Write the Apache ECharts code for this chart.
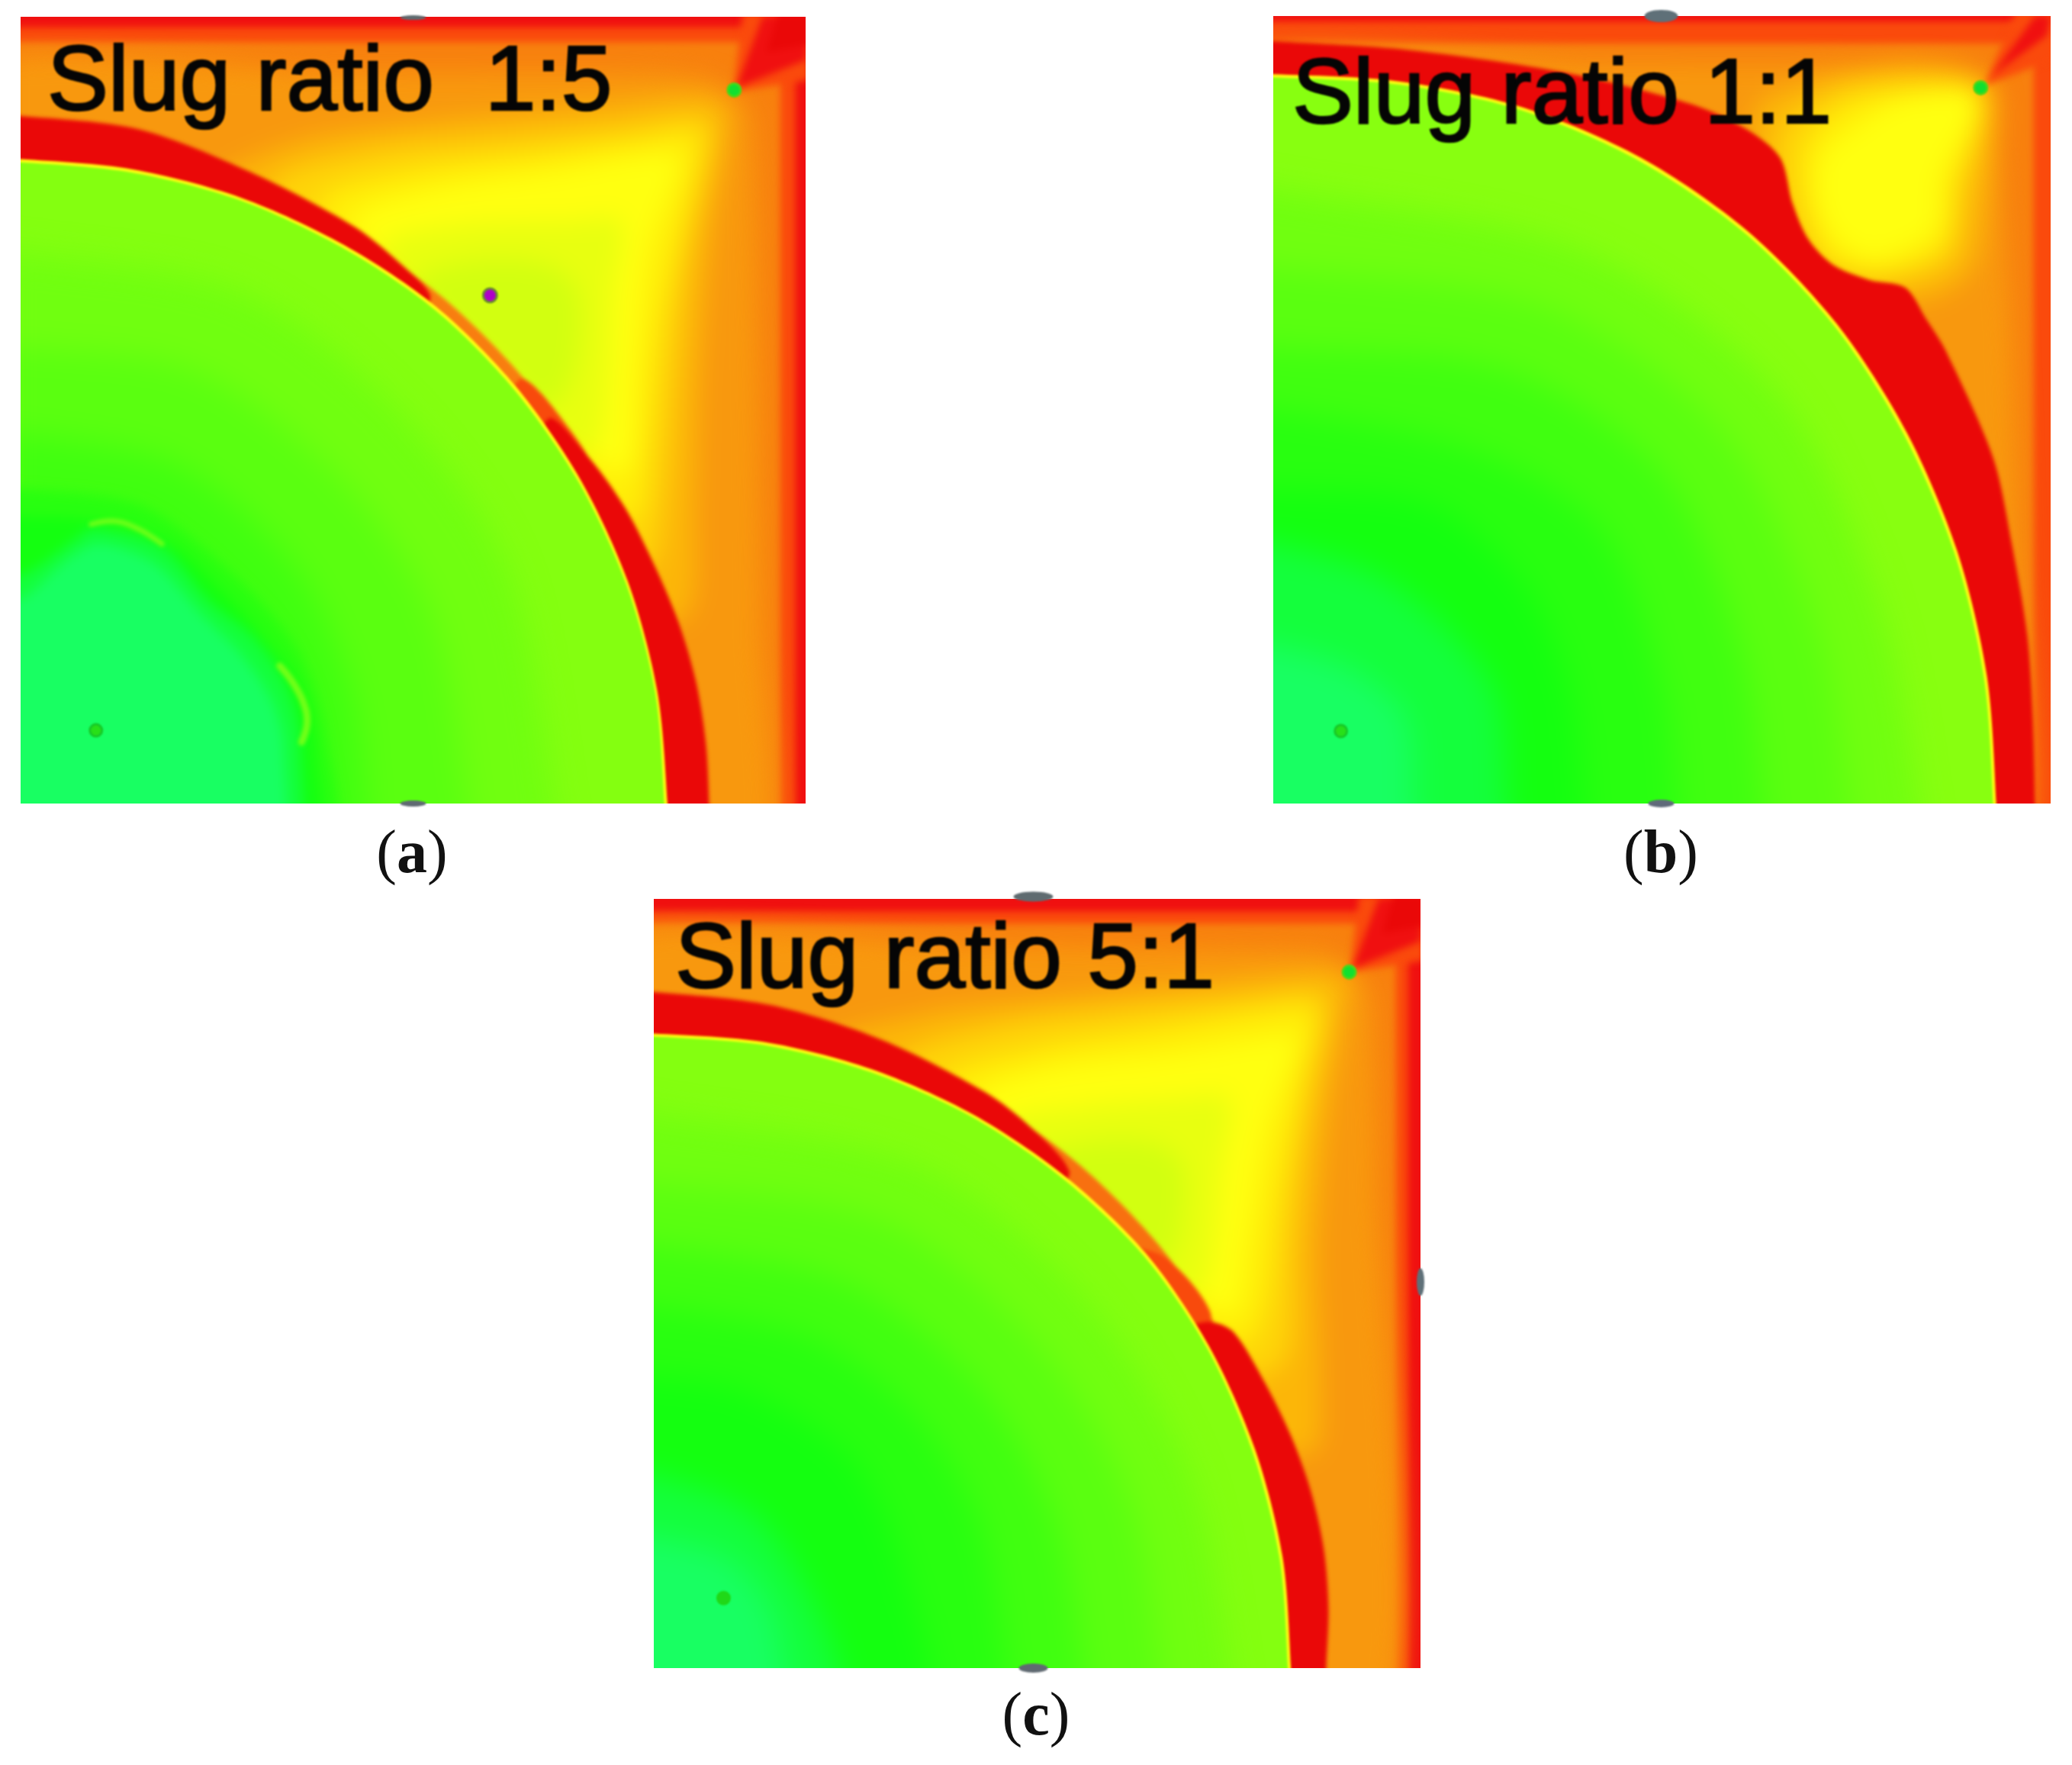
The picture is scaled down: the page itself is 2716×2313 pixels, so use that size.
<!DOCTYPE html>
<html><head><meta charset="utf-8">
<style>html,body{margin:0;padding:0;background:#fff}#c{width:2716px;height:2313px}</style>
<script src="https://cdn.jsdelivr.net/npm/echarts@6/dist/echarts.min.js"></script>
</head><body><div id="c"></div>
<script>
// ---------- contour readings, panel percent coordinates (x right, y up) ----------
const frameAll=[[-6,-6],[106,-6],[106,106],[-6,106]];
// panel a : slug ratio 1:5
const aO1=[[-6,98.7],[98.7,98.7],[98.7,-6],[-6,-6]];
const aO2=[[-6,96.8],[96.8,96.8],[96.8,-6],[-6,-6]];
const aO3=[[-6,93],[40,93],[80,93],[88,92],[93,88],[94,60],[94.5,20],[94.5,-6],[-6,-6]];
const aO4=[[25,78],[35,84],[50,86.5],[70,88.5],[85,90],[90,89],[90,85],[88,72],[86.5,55],[86,38],[85,24],[78,24],[50,50]];
const aO5=[[32,78],[45,83],[60,84.5],[75,86],[87,87.5],[88.5,85],[85,70],[83.5,55],[82,38],[80,30],[70,35],[50,55]];
const aO6=[[38,76],[50,80.5],[65,82.5],[80,84.5],[86,85],[85,76],[81.5,60],[80,45],[78,36],[65,45],[50,60]];
const aY=[[42,74],[52,78],[68,80.5],[80,82.5],[84,82],[80,70],[78.5,55],[77,42],[65,50],[50,65]];
const aYG1=[[46,71],[56,73.5],[70,74],[76.5,74],[75.5,65],[74.5,50],[72,44],[60,55],[50,65]];
const aYG2=[[50,66],[58,69],[67,68.5],[71,65],[70.5,55],[67,50],[60,56]];
const aStrip=[[83.8,-6],[83.8,0],[82.5,14.6],[78.7,28.7],[72.6,41.9],[64.2,53.9],[53.9,64.2],[41.9,72.6],[28.7,78.7],[14.6,82.5],[0,83.8],[-6,83.8],[-6,-6]];
const aMid=[[64,54],[70,47.5],[73,42],[70,40],[62,50]];
const aRedTop=[[-6,87.5],[0,87.4],[15.1,85.7],[29.2,80.3],[42.4,73.4],[48.2,68.8],[52.2,64.5],[50,62],[30,60],[-6,60],[-20,70]];
const aRedRight=[[67.1,48.8],[71.7,44.8],[77,37.6],[81.1,29.5],[84,22.5],[86.1,15.2],[87.3,7.6],[87.7,0],[87.8,-6],[60,-6],[60,30]];
const aRim=[[82.4,-6],[82.4,0],[81.1,14.3],[77.4,28.1],[71.3,41.2],[63.1,53],[53,63.1],[41.2,71],[28.1,77],[14.3,80.6],[0,81.9],[-6,81.9],[-6,-6]];
const aDisc=[[82,-6],[82,0],[80.8,14.3],[77.1,28],[71,41],[62.8,52.7],[52.7,62.8],[40.9,70.7],[27.9,76.7],[14.2,80.2],[0,81.5],[-6,81.5],[-6,-6]];
const aG1=[[-6,70],[0,70],[28,65],[48,50],[62,30],[68,0],[68,-6],[-6,-6]];
const aG2=[[-6,58],[0,58],[22,55],[40,42],[52,25],[57,0],[57,-6],[-6,-6]];
const aG3=[[-6,47],[0,47],[20,43],[35,30],[42,15],[44,0],[44,-6],[-6,-6]];
const aG4=[[-6,40],[0,40],[15,38],[25,31],[35,20],[39,8],[39,-6],[-6,-6]];
const aG5=[[-6,36.5],[0,36.5],[9,36],[19,33],[26,26.5],[31,21],[36,14],[37.5,6],[37,-6],[-6,-6]];
const aB1=[[-6,29],[0,29],[7,33.6],[9.3,35],[18,32.6],[24,25.8],[29.8,21],[34,14.8],[35.6,8],[34,-6],[-6,-6]];
const aB2=[[-6,26],[0,26],[6,31],[10,33],[17,30.5],[23,24],[28,19],[32,13],[33.5,7],[32,-6],[-6,-6]];
const aArc1=[[9,35.5],[12,35.9],[15,34.9],[18,33]];
const aArc2=[[33,17.5],[34.6,15.5],[36,12.9],[36.5,10.3],[35.8,7.8]];
// panel b : slug ratio 1:1
const bTopRed=[[-6,99.3],[106,99.3],[106,106],[-6,106]];
const bO1=[[-6,98],[99,98],[99,-6],[-6,-6]];
const bO2=[[-6,96.5],[97.8,96.5],[97.8,-6],[-6,-6]];
const bO3=[[-6,94],[40,94],[70,94],[88,93],[92,90],[93.5,80],[95,60],[96,30],[96,-6],[-6,-6]];
const bO4=[[62,88],[70,92],[80,94],[90,93],[93,90],[92,78],[90,68],[84,64],[72,65],[64,72]];
const bO5=[[65,85],[72,90.5],[81,92],[90,91.5],[91.5,88],[89,78],[87,69],[78,66],[70,68],[66,75]];
const bO6=[[68,82],[73,88.5],[81,90.5],[90,90.7],[91,88],[88,79],[86.5,71],[78,67.5],[71,70]];
const bY=[[69.8,77.8],[70.8,82.7],[75,85.9],[79.9,89.1],[86.5,90.4],[90.1,90],[90,87],[86,80],[85.2,73],[81.5,70.5],[76.6,69.2],[71.7,72.3]];
const bRed=[[-6,97],[0,96.8],[17.4,95.7],[37.6,92.8],[53.8,88.8],[60.9,85.6],[65.2,82],[66.8,76.2],[68.8,71.7],[72,68.4],[76.6,66.5],[81.3,65.5],[84,61.5],[86.5,57.5],[92.6,43.9],[95,33],[97,21.3],[97.7,11],[98,0],[98,-6],[50,-6],[50,50],[-6,60]];
const bRim=[[93,-6],[93,0],[91.8,16.2],[88,32],[81.5,47.1],[72.5,60.9],[61,72.7],[47.3,82],[32.1,88.4],[16.2,91.7],[0,92.6],[-6,92.6],[-6,-6]];
const bDisc=[[92.6,-6],[92.6,0],[91.4,16.1],[87.6,31.9],[81.1,46.9],[72.2,60.6],[60.7,72.4],[47.1,81.6],[32,88],[16.1,91.3],[0,92.2],[-6,92.2],[-6,-6]];
const bG1=[[-6,78],[0,78],[40,70],[65,52],[78,25],[83,0],[83,-6],[-6,-6]];
const bG2=[[-6,68],[0,68],[35,63],[58,47],[70,22],[74,0],[74,-6],[-6,-6]];
const bG3=[[-6,58],[0,58],[30,55],[50,42],[60,20],[63,0],[63,-6],[-6,-6]];
const bG4=[[-6,50],[0,50],[25,45],[42,35],[50,15],[52,0],[52,-6],[-6,-6]];
const bG5=[[-6,40],[0,40],[20,38],[32,28],[38,15],[40,0],[40,-6],[-6,-6]];
const bB1=[[-6,33],[0,33],[15,28],[28,15],[30,0],[30,-6],[-6,-6]];
const bB2=[[-6,20],[0,20],[10,17],[17,11],[18,0],[18,-6],[-6,-6]];
// panel c : slug ratio 5:1
const cO1=[[-6,98.4],[98.4,98.4],[98.4,-6],[-6,-6]];
const cO2=[[-6,96.8],[96.8,96.8],[96.8,-6],[-6,-6]];
const cO3=[[-6,94],[40,94],[80,93.5],[88,93],[93.5,88],[94.5,60],[95,-6],[-6,-6]];
const cO4=[[22,80],[35,85],[50,87],[70,89],[85,90.5],[90.5,90],[90,85],[88,72],[86.5,55],[87,38],[86,28],[78,30],[50,50]];
const cO5=[[32,78],[45,83.5],[60,85.5],[75,87],[87,88],[88,85],[85,70],[83.5,55],[83,42],[80,38],[70,40],[50,55]];
const cO6=[[38,76],[50,80.5],[65,83],[80,85.5],[86,85.5],[84.5,76],[81.5,60],[80,48],[77,42],[65,48],[50,60]];
const cY=[[42,74],[52,78],[68,80],[80,82],[84,82],[80,70],[77.5,55],[75.5,46],[65,52],[50,65]];
const cYG1=[[46,71],[56,73],[68,74],[75,74],[74,65],[72.5,52],[70,48],[60,55],[50,65]];
const cYG2=[[50,66],[58,68.5],[66,68],[69,65],[68.5,56],[66,52],[60,58]];
const cStrip=[[85.8,-6],[85.8,0],[84.5,14.9],[80.6,29.3],[74.3,42.9],[65.7,55.2],[55.2,65.7],[42.9,74.3],[29.3,80.6],[14.9,84.5],[0,85.8],[-6,85.8],[-6,-6]];
const cMid=[[61,54.5],[66.5,53.5],[72.5,46.5],[72,41],[66,47]];
const cRedTop=[[-6,88],[0,87.9],[15.2,86.2],[29.7,81.7],[43.2,74.9],[49.2,70.3],[54.2,64.6],[52,62],[30,60],[-6,60]];
const cRedRight=[[69.5,44],[72.6,45],[75.6,43.7],[79.7,37.1],[83.1,30.2],[85.7,23],[87.4,15.4],[88,7.7],[87.7,0],[87.6,-6],[60,-6],[60,30]];
const cRim=[[83.1,-6],[83.1,0],[82,14.5],[78.4,28.5],[72.4,41.9],[64.2,53.9],[53.7,63.9],[41.6,72],[28.3,77.9],[14.4,81.4],[0,82.5],[-6,82.5],[-6,-6]];
const cDisc=[[82.7,-6],[82.7,0],[81.6,14.4],[78,28.4],[72.1,41.7],[63.9,53.6],[53.4,63.6],[41.4,71.7],[28.2,77.5],[14.3,81],[0,82.1],[-6,82.1],[-6,-6]];
const cG1=[[-6,72],[0,72],[35,65],[57,47],[70,25],[75,0],[75,-6],[-6,-6]];
const cG2=[[-6,63],[0,63],[30,58],[50,42],[62,22],[66,0],[66,-6],[-6,-6]];
const cG3=[[-6,55],[0,55],[25,50],[42,37],[52,20],[56,0],[56,-6],[-6,-6]];
const cG4=[[-6,47],[0,47],[20,43],[33,34],[42,20],[46,0],[46,-6],[-6,-6]];
const cG5=[[-6,38],[0,38],[12,36],[25,28],[30,20],[34,8],[36,0],[36,-6],[-6,-6]];
const cB1=[[-6,25],[0,25],[13,20],[20,10],[24,0],[24,-6],[-6,-6]];
const cB2=[[-6,17],[0,17],[10,14],[15,8],[17,0],[17,-6],[-6,-6]];
// corner wedges
const wedgeOuter=[[90.8,90.5],[92,100.5],[100.5,100.5],[100.5,92]];
const wedgeMid=[[91.2,91],[94.5,100],[100.5,100.5],[100,94.5]];
const wedgeCore=[[95,95.5],[96.5,100.5],[100.5,100.5],[100.5,96.5]];
const bWedge=[[91.5,91.2],[95.5,100.5],[100.5,100.5],[100.5,94.5]];
const bWedgeCore=[[92.5,92.5],[98,100],[100,100],[99.5,97.5]];
// point readings
const aDots=[[90.9,90.7]], aProbe=[[59.8,64.6]], aBase=[[9.6,9.3]];
const bDots=[[91,90.9]], bBase=[[8.7,9.2]];
const cDots=[[90.7,90.5]], cBase=[[9.1,9.1]];
const aTop=[[50,99.9]], aBottom=[[50,0]];
const bTop=[[49.9,100]], bBottom=[[49.9,0]];
const cTop=[[49.5,100.3]], cBottom=[[49.5,0]], cRight=[[100,50.2]];
// labels
const slugLabels=['Slug ratio  1:5','Slug ratio 1:1','Slug ratio 5:1'];
const panelLetters=['a','b','c'];

// ---------- styling and layout ----------
const col={red:'#f01010',dark:'#ea0808',o1:'#fa4a0c',o2:'#f8800e',o3:'#f8980e',o4:'#fcb608',o5:'#fed408',o6:'#ffee08',y:'#ffff10',yg1:'#e8ff10',yg2:'#d2ff10',strip:'#f87e10',cstrip:'#f87010',mid:'#f84a0c',
 lime:'#84ff10',g1:'#70ff10',g2:'#5aff10',g3:'#40ff10',g4:'#28ff10',g5:'#14ff10',b1:'#14ff3c',b2:'#18ff62'};
const grids=[{left:27,top:22,width:1029,height:1031},{left:1669,top:21,width:1019,height:1032},{left:857,top:1178,width:1005,height:1008}];
const textAt=[[62,111],[1694,128],[885,1261]];
const capAt=[[540,1122],[2177,1122],[1358,2252]];
// softening per drawing layer: the reference is an enlarged, soft picture
const EDGE=0,FIELD=1,WEDGE=2,BAND=3,DISC=4,GWIDE=5,GBLOB=6,ARC=7,MARK=8,TEXT=9,CAP=10;
const layerBlur={[EDGE]:5,[FIELD]:16,[WEDGE]:5,[BAND]:2.5,[DISC]:1.4,[GWIDE]:20,[GBLOB]:8,[ARC]:2.5};
const hole=grids.map(g=>`M${g.left} ${g.top}h${g.width}v${g.height}h${-g.width}z`).join(' ');
let css=`#c canvas[data-zr-dom-id="zr_${MARK}"]{filter:blur(1px)}#c canvas[data-zr-dom-id="zr_${TEXT}"]{filter:blur(1px)}`;
Object.keys(layerBlur).forEach(k=>{css+=`#c canvas[data-zr-dom-id="zr_${k}"]{filter:blur(${layerBlur[k]}px);clip-path:path('${hole}')}`;});
const st=document.createElement('style');st.textContent=css;document.head.appendChild(st);

// a far off-panel corner is split in two so that the curve smoothing cannot overshoot it
function tightCorner(data){const out=[];data.forEach((q,i)=>{if(q[0]===-6&&q[1]===-6){const prev=data[(i+data.length-1)%data.length];
 if(prev[1]===-6)out.push([-5,-6],[-6,-5]);else out.push([-6,-5],[-5,-6]);}else out.push(q);});return out;}
function poly(p,data,color,lv,smooth){const outline=tightCorner(data);return{type:'custom',coordinateSystem:'cartesian2d',xAxisIndex:p,yAxisIndex:p,clip:false,silent:true,animation:false,zlevel:lv,z:2,data,encode:{x:0,y:1},
 renderItem:(params,api)=>params.dataIndex?null:{type:'polygon',shape:{points:outline.map(q=>api.coord(q)),smooth:smooth===undefined?0.3:smooth},style:{fill:color}}};}
function curve(p,data,color,w){return{type:'custom',coordinateSystem:'cartesian2d',xAxisIndex:p,yAxisIndex:p,clip:false,silent:true,animation:false,zlevel:ARC,z:2,data,encode:{x:0,y:1},
 renderItem:(params,api)=>params.dataIndex?null:{type:'polyline',shape:{points:data.map(q=>api.coord(q)),smooth:0.4},style:{fill:null,stroke:color,lineWidth:w,lineCap:'round'}}};}
function pts(p,data,size,color,border,clip,z){return{type:'scatter',xAxisIndex:p,yAxisIndex:p,data,symbol:'circle',symbolSize:size,clip,silent:true,animation:false,zlevel:MARK,z:z||4,
 itemStyle:{color,borderColor:border||color,borderWidth:border?3:0,opacity:1}};}

const series=[
 poly(0,frameAll,col.red,EDGE,0),poly(0,aO1,col.o1,EDGE,0),poly(0,aO2,col.o2,EDGE,0),
 poly(0,aO3,col.o3,FIELD,0.15),poly(0,aO4,col.o4,FIELD),poly(0,aO5,col.o5,FIELD),poly(0,aO6,col.o6,FIELD),poly(0,aY,col.y,FIELD),poly(0,aYG1,col.yg1,FIELD),poly(0,aYG2,col.yg2,FIELD),
 poly(0,wedgeOuter,col.o1,WEDGE,0),poly(0,wedgeMid,col.red,WEDGE,0),poly(0,wedgeCore,col.dark,WEDGE,0),
 poly(0,aStrip,col.strip,BAND),poly(0,aMid,col.mid,BAND),poly(0,aRedTop,col.dark,BAND),poly(0,aRedRight,col.dark,BAND),poly(0,aRim,col.y,DISC),poly(0,aDisc,col.lime,DISC),
 poly(0,aG1,col.g1,GWIDE),poly(0,aG2,col.g2,GWIDE),poly(0,aG3,col.g3,GWIDE),poly(0,aG4,col.g4,GBLOB),poly(0,aG5,col.g5,GBLOB),poly(0,aB1,col.b1,GBLOB),poly(0,aB2,col.b2,GBLOB),
 curve(0,aArc1,'#6cff18',7),curve(0,aArc2,'#72ff18',9),

 poly(1,frameAll,col.o1,EDGE,0),poly(1,bTopRed,col.red,EDGE,0),poly(1,bO1,col.o1,EDGE,0),poly(1,bO2,col.o2,EDGE,0),
 poly(1,bO3,col.o3,FIELD,0.15),poly(1,bO4,col.o4,FIELD),poly(1,bO5,col.o5,FIELD),poly(1,bO6,col.o6,FIELD),poly(1,bY,col.y,FIELD),
 poly(1,bWedge,col.o1,WEDGE,0),poly(1,bWedgeCore,col.red,WEDGE,0),
 poly(1,bRed,col.dark,BAND),poly(1,bRim,col.y,DISC),poly(1,bDisc,'#88ff10',DISC),
 poly(1,bG1,col.g1,GWIDE),poly(1,bG2,col.g2,GWIDE),poly(1,bG3,col.g3,GWIDE),poly(1,bG4,col.g4,GWIDE),poly(1,bG5,col.g5,GWIDE),poly(1,bB1,col.b1,GWIDE),poly(1,bB2,col.b2,GWIDE),

 poly(2,frameAll,col.red,EDGE,0),poly(2,cO1,col.o1,EDGE,0),poly(2,cO2,col.o2,EDGE,0),
 poly(2,cO3,col.o3,FIELD,0.15),poly(2,cO4,col.o4,FIELD),poly(2,cO5,col.o5,FIELD),poly(2,cO6,col.o6,FIELD),poly(2,cY,col.y,FIELD),poly(2,cYG1,col.yg1,FIELD),poly(2,cYG2,col.yg2,FIELD),
 poly(2,wedgeOuter,col.o1,WEDGE,0),poly(2,wedgeMid,col.red,WEDGE,0),poly(2,wedgeCore,col.dark,WEDGE,0),
 poly(2,cStrip,col.cstrip,BAND),poly(2,cMid,col.mid,BAND),poly(2,cRedTop,col.dark,BAND),poly(2,cRedRight,col.dark,BAND),poly(2,cRim,col.y,DISC),poly(2,cDisc,col.lime,DISC),
 poly(2,cG1,col.g1,GWIDE),poly(2,cG2,col.g2,GWIDE),poly(2,cG3,col.g3,GWIDE),poly(2,cG4,col.g4,GWIDE),poly(2,cG5,col.g5,GWIDE),poly(2,cB1,col.b1,GWIDE),poly(2,cB2,col.b2,GWIDE),

 pts(0,aTop,[34,6],'#5f6b70',null,false,1),pts(0,aBottom,[34,8],'#606a72',null,true),pts(0,aDots,17,'#10e030','#48d818',false),pts(0,aProbe,18,'#b000c8','#6a8a30',false),pts(0,aBase,16,'#28e018','#18c828',false),
 pts(1,bTop,[44,16],'#5f7078',null,false,1),pts(1,bBottom,[34,10],'#606a7a',null,true),pts(1,bDots,17,'#10e030','#48d818',false),pts(1,bBase,16,'#28e018','#18c828',false),
 pts(2,cTop,[52,13],'#5f6b70',null,false,1),pts(2,cBottom,[38,12],'#606a72',null,true),pts(2,cRight,[10,36],'#5f7078',null,true,1),pts(2,cDots,17,'#10e030','#48d818',false),pts(2,cBase,16,'#20d818','#20d818',false)
];

const graphicEls=[];
slugLabels.forEach((t,i)=>graphicEls.push({type:'text',x:textAt[i][0],y:textAt[i][1],zlevel:TEXT,z:100,silent:true,style:{text:t,fill:'#050505',stroke:'#050505',lineWidth:2.5,font:'120px "Liberation Sans"',textAlign:'left',textVerticalAlign:'middle'}}));
panelLetters.forEach((t,i)=>graphicEls.push({type:'text',x:capAt[i][0],y:capAt[i][1],zlevel:CAP,z:100,silent:true,style:{text:'{p|(}{l|'+t+'}{p|)}',align:'center',verticalAlign:'middle',rich:{p:{font:'80px "Liberation Serif"',fill:'#111'},l:{font:'bold 80px "Liberation Serif"',fill:'#111'}}}}));

const chart=echarts.init(document.getElementById('c'),null,{renderer:'canvas'});
chart.setOption({animation:false,
 grid:grids.map(g=>Object.assign({show:false},g)),
 xAxis:grids.map((g,i)=>({type:'value',gridIndex:i,min:0,max:100,show:false})),
 yAxis:grids.map((g,i)=>({type:'value',gridIndex:i,min:0,max:100,show:false})),
 series,graphic:graphicEls});
</script></body></html>
